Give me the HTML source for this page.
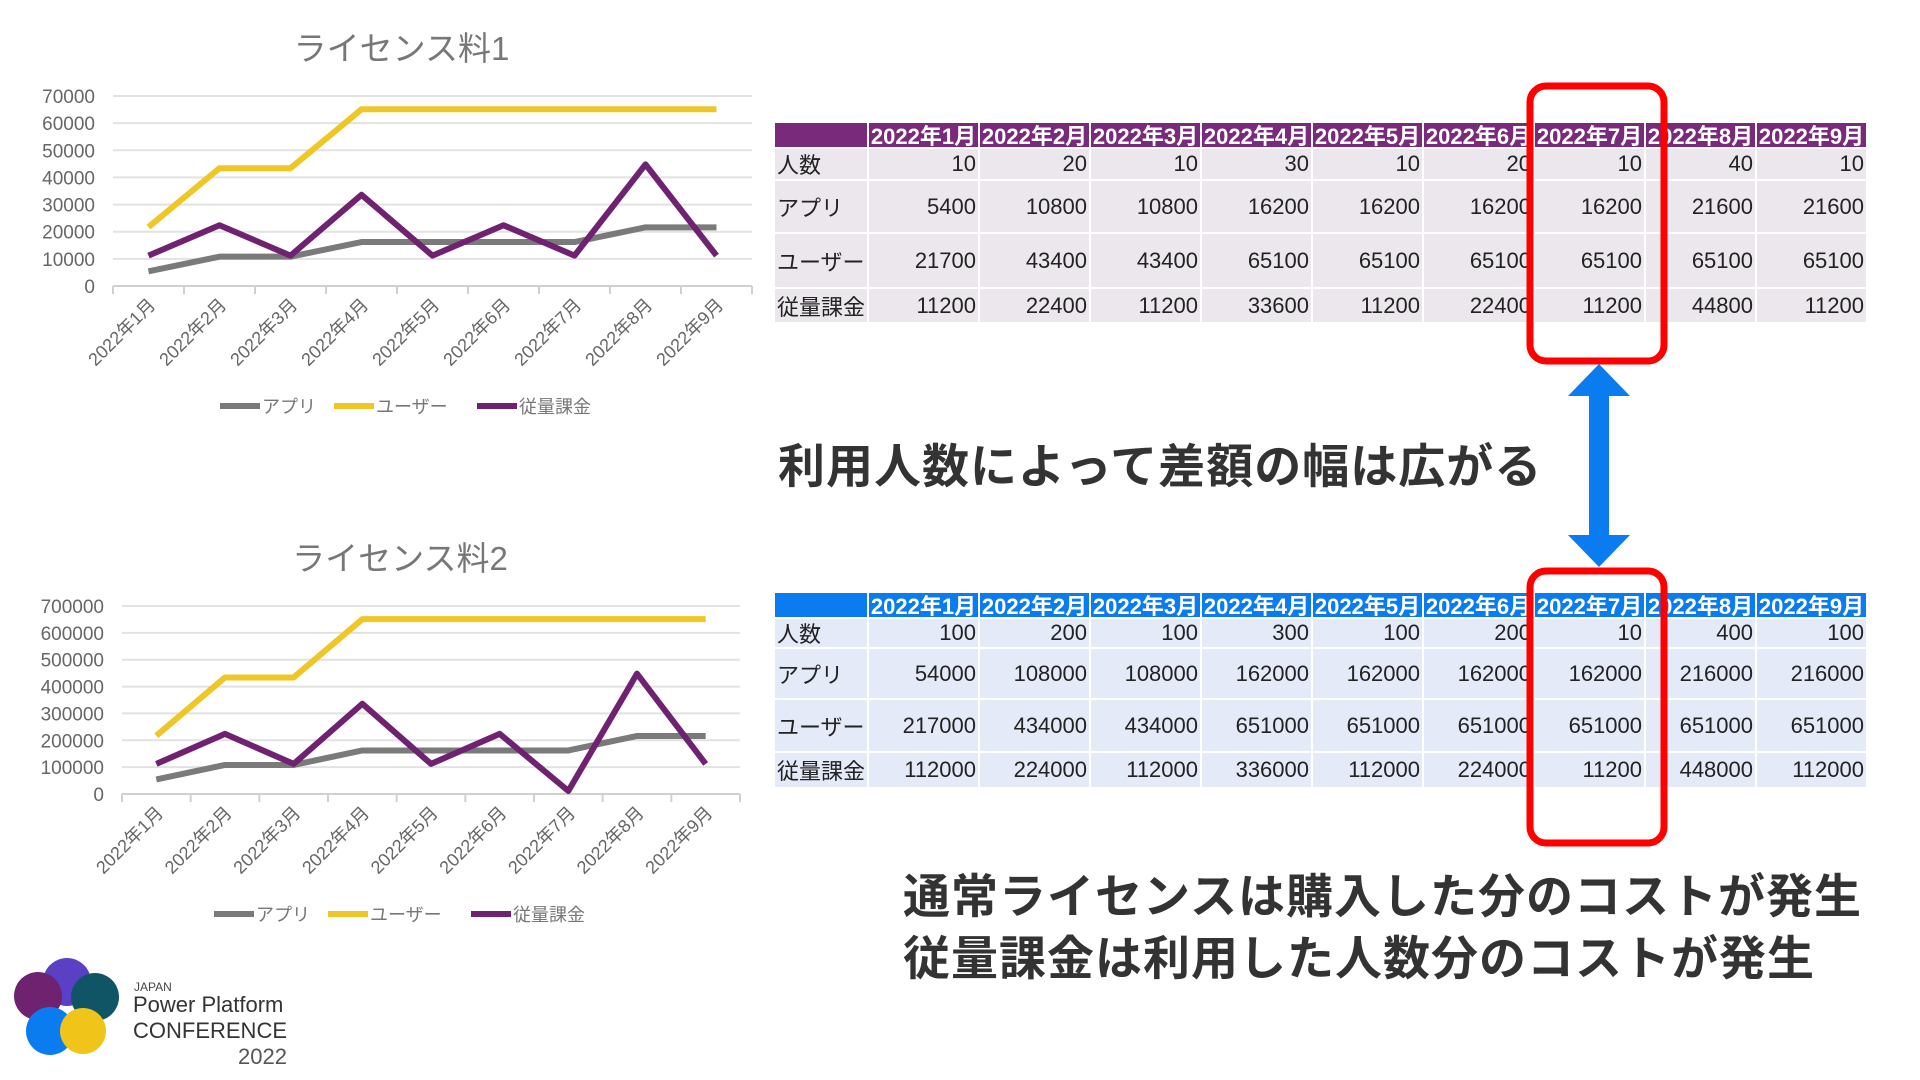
<!DOCTYPE html>
<html><head><meta charset="utf-8">
<style>
*{margin:0;padding:0;box-sizing:border-box}
body{width:1920px;height:1080px;background:#fff;position:relative;overflow:hidden;font-family:"Liberation Sans Narrow","Liberation Sans","Noto Sans CJK JP",sans-serif}
.abs{position:absolute}
.tbl{position:absolute;display:grid;column-gap:2px;row-gap:2px}
.tbl div{font-size:22px;color:#222;display:flex;align-items:center;justify-content:flex-end;padding-right:2px;white-space:nowrap;overflow:hidden;font-family:"Liberation Sans Narrow","Liberation Sans","Noto Sans CJK JP",sans-serif}
.tbl .lbl{justify-content:flex-start;padding-left:2px}
.tbl .hd{color:#fff;font-weight:bold;justify-content:center;padding:0}
.big{position:absolute;font-family:"Liberation Sans","Noto Sans CJK JP",sans-serif;font-weight:bold;color:#333;white-space:nowrap}
</style></head><body>

<svg id="chart1" class="abs" style="left:0;top:0" width="780" height="440"></svg>
<svg id="chart2" class="abs" style="left:0;top:520" width="780" height="420"></svg>

<div id="table1" class="tbl" style="left:775px;top:123px;grid-template-columns:92px repeat(9,109px);grid-template-rows:24px 30px 51px 53px 33px"></div>
<div id="table2" class="tbl" style="left:775px;top:593px;grid-template-columns:92px repeat(9,109px);grid-template-rows:24px 28px 49px 51px 34px"></div>

<svg class="abs" style="left:0;top:0" width="1920" height="1080">
  <rect x="1530" y="86" width="134" height="275" rx="16" fill="none" stroke="#f00" stroke-width="7"/>
  <rect x="1530" y="571" width="134" height="272" rx="16" fill="none" stroke="#f00" stroke-width="7"/>
  <polygon fill="#0a7cf0" points="1599,364 1630,396 1609,396 1609,535 1630,535 1599,567 1568,535 1589,535 1589,396 1568,396"/>
</svg>

<div class="big" style="left:778px;top:428px;font-size:47px;letter-spacing:1px">利用人数によって差額の幅は広がる</div>
<div class="big" style="left:903px;top:858px;font-size:47px;letter-spacing:1px">通常ライセンスは購入した分のコストが発生</div>
<div class="big" style="left:903px;top:920px;font-size:47px;letter-spacing:1px">従量課金は利用した人数分のコストが発生</div>

<div class="abs" style="left:0;top:940px;width:320px;height:140px">
  <svg width="120" height="140" class="abs" style="left:0;top:0">
    <circle cx="67" cy="42" r="24" fill="#5b3fc4"/>
    <circle cx="95" cy="57" r="24" fill="#0f5566"/>
    <circle cx="38" cy="56" r="24" fill="#6e2270"/>
    <circle cx="50" cy="91" r="24" fill="#0a7cf0"/>
    <circle cx="83" cy="91" r="23" fill="#f0c419"/>
  </svg>
  <div class="abs" style="left:134px;top:40px;font-size:12px;color:#444;font-family:'Liberation Sans',sans-serif">JAPAN</div>
  <div class="abs" style="left:133px;top:52px;font-size:22px;color:#333;font-family:'Liberation Sans',sans-serif">Power Platform</div>
  <div class="abs" style="left:133px;top:78px;font-size:22px;color:#333;font-family:'Liberation Sans',sans-serif">CONFERENCE</div>
  <div class="abs" style="left:238px;top:104px;font-size:22px;color:#555;font-family:'Liberation Sans',sans-serif">2022</div>
</div>

<script>
const categories = ["2022年1月","2022年2月","2022年3月","2022年4月","2022年5月","2022年6月","2022年7月","2022年8月","2022年9月"];
const seriesNames = ["アプリ","ユーザー","従量課金"];
const users1 = [10,20,10,30,10,20,10,40,10];
const app1 = [5400,10800,10800,16200,16200,16200,16200,21600,21600];
const user1 = [21700,43400,43400,65100,65100,65100,65100,65100,65100];
const payg1 = [11200,22400,11200,33600,11200,22400,11200,44800,11200];
const ticks1 = [0,10000,20000,30000,40000,50000,60000,70000];
const users2 = [100,200,100,300,100,200,10,400,100];
const app2 = [54000,108000,108000,162000,162000,162000,162000,216000,216000];
const user2 = [217000,434000,434000,651000,651000,651000,651000,651000,651000];
const payg2 = [112000,224000,112000,336000,112000,224000,11200,448000,112000];
const ticks2 = [0,100000,200000,300000,400000,500000,600000,700000];
const colors = ["#7a7a7a","#efc625","#6e2270"];

const NS="http://www.w3.org/2000/svg";
function mk(parent,tag,attrs,name){
  const e=document.createElementNS(NS,tag);
  for(const k in attrs) e.setAttribute(k,attrs[k]);
  
  
  parent.appendChild(e);return e;
}
function drawChart(svg,title,L,R,T,B,ticks,series,titleY,legendY,legendX){
  const maxV=ticks[ticks.length-1];
  const y=v=>B-(v/maxV)*(B-T);
  const bw=(R-L)/categories.length;
  const x=i=>L+bw*(i+0.5);
  const t=mk(svg,'text',{x:(L+R)/2-31,y:titleY,'text-anchor':'middle','font-size':33,fill:'#777','font-family':'"Liberation Sans Narrow","Liberation Sans","Noto Sans CJK JP",sans-serif'},'chart-title');
  t.textContent=title;
  ticks.forEach(v=>{
    mk(svg,'line',{x1:L,x2:R,y1:y(v),y2:y(v),stroke:v===0?'#d0d0d0':'#e2e2e2','stroke-width':2},'gridline');
    const lb=mk(svg,'text',{x:L-18,y:y(v)+7,'text-anchor':'end','font-size':19,fill:'#666','font-family':'"Liberation Sans Narrow","Liberation Sans",sans-serif'},'y-tick-label');
    lb.textContent=v;
  });
  for(let i=0;i<=categories.length;i++) mk(svg,'line',{x1:L+bw*i,x2:L+bw*i,y1:B,y2:B+8,stroke:'#d0d0d0','stroke-width':2},'x-tick');
  categories.forEach((c,i)=>{
    const lb=mk(svg,'text',{x:0,y:0,'text-anchor':'end','font-size':18,fill:'#666',transform:`translate(${x(i)+8},${B+20}) rotate(-45)`,'font-family':'"Liberation Sans Narrow","Liberation Sans","Noto Sans CJK JP",sans-serif'},'x-tick-label');
    lb.textContent=c;
  });
  series.forEach((s,si)=>{
    mk(svg,'polyline',{points:s.map((v,i)=>x(i)+','+y(v)).join(' '),fill:'none',stroke:colors[si],'stroke-width':6,'stroke-linejoin':'round'},'series-line-'+si);
  });
  let lx=legendX;
  seriesNames.forEach((n,si)=>{
    mk(svg,'line',{x1:lx,x2:lx+40,y1:legendY,y2:legendY,stroke:colors[si],'stroke-width':6},'legend-swatch');
    const lt=mk(svg,'text',{x:lx+42,y:legendY+7,'font-size':18,fill:'#777','font-family':'"Liberation Sans Narrow","Liberation Sans","Noto Sans CJK JP",sans-serif'},'legend-entry');
    lt.textContent=n;
    lx+= si===0?114:(si===1?143:0);
  });
}
drawChart(document.getElementById('chart1'),'ライセンス料1',113,752,96,286,ticks1,[app1,user1,payg1],60,406,220);
drawChart(document.getElementById('chart2'),'ライセンス料2',122,740,86,274,ticks2,[app2,user2,payg2],50,394,214);

function buildTable(id,hdColor,cellColor,rows){
  const el=document.getElementById(id);
  el.style.background='#fff';
  const h=document.createElement('div');h.className='hd';h.style.background=hdColor;
  
  
  el.appendChild(h);
  categories.forEach(c=>{
    const d=document.createElement('div');d.className='hd';d.style.background=hdColor;d.textContent=c;
    
    
    el.appendChild(d);
  });
  rows.forEach(r=>{
    const l=document.createElement('div');l.className='lbl';l.style.background=cellColor;l.textContent=r[0];
    
    
    el.appendChild(l);
    r[1].forEach(v=>{
      const d=document.createElement('div');d.style.background=cellColor;d.textContent=v;
      
      
      el.appendChild(d);
    });
  });
}
buildTable('table1','#7a2a7a','#ebe7ec',[["人数",users1],["アプリ",app1],["ユーザー",user1],["従量課金",payg1]]);
buildTable('table2','#0a7cf0','#e4eaf8',[["人数",users2],["アプリ",app2],["ユーザー",user2],["従量課金",payg2]]);
</script>
</body></html>
